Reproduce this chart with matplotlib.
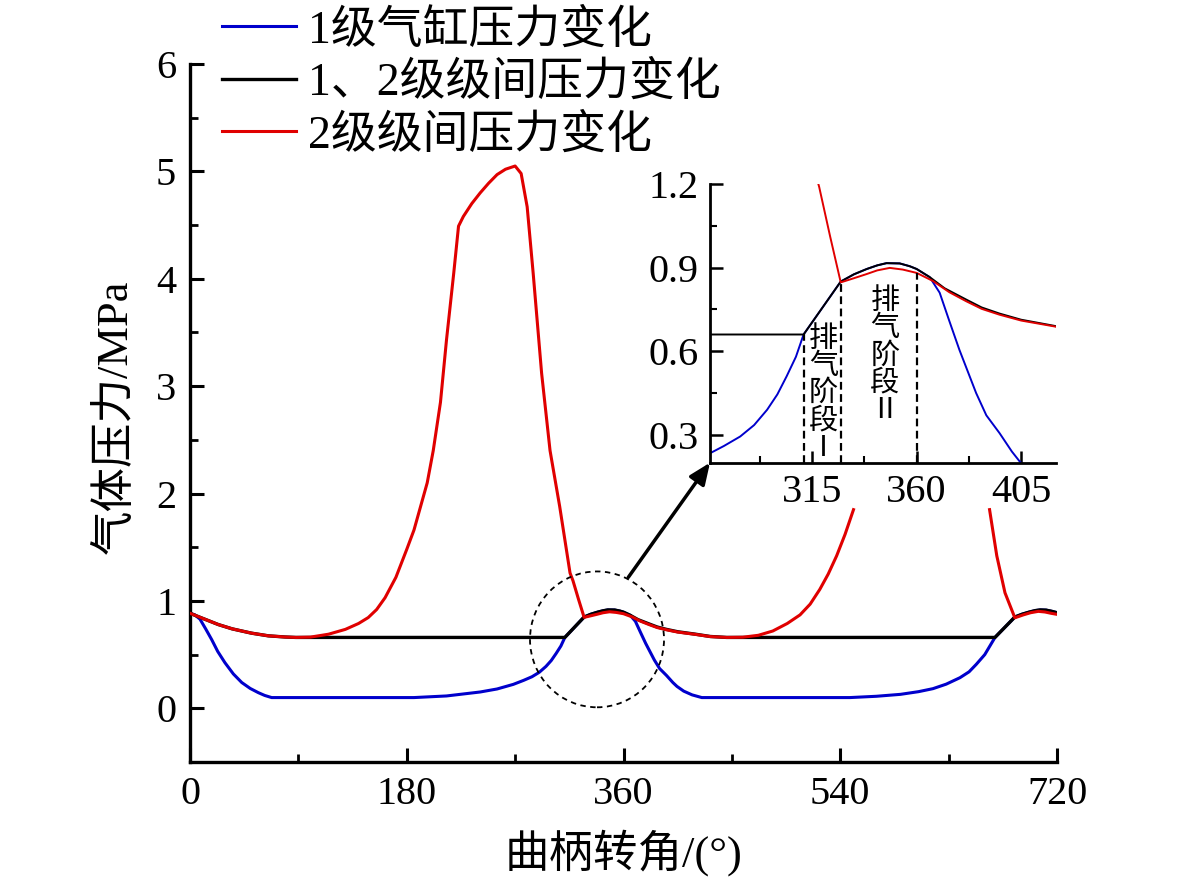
import numpy as np
import matplotlib
matplotlib.use("Agg")
import matplotlib.pyplot as plt
from matplotlib.patches import Ellipse
from matplotlib.ticker import MultipleLocator

plt.rcParams['font.family'] = ['Liberation Serif', 'Noto Sans CJK SC']
plt.rcParams['axes.unicode_minus'] = False

# ---------------- data ----------------
labels = ["1级气缸压力变化", "1、2级级间压力变化", "2级级间压力变化"]
colors = ["#0000CC", "#000000", "#E00000"]

# 1级气缸压力变化 (blue)
blue_x = [0, 4, 8.3, 13, 18, 23, 29, 36, 43, 50, 56.7, 62, 67.8, 186, 213, 241, 255,
          268.5, 277, 284, 290, 295.6, 300, 304, 308, 311.3, 327.3, 333, 338.5, 343,
          347, 352.7, 357, 360, 365.6, 369.9, 374, 378.4, 385.6, 390, 395.7, 401,
          404.4, 410, 417, 425, 548, 570, 590, 605, 617, 628, 639.4, 647, 653, 660,
          668.5, 685, 691, 697, 702, 706, 711, 716, 720]
blue_y = [0.885, 0.87, 0.83, 0.74, 0.64, 0.53, 0.425, 0.32, 0.24, 0.185, 0.146, 0.12,
          0.1, 0.1, 0.115, 0.152, 0.18, 0.223, 0.26, 0.294, 0.335, 0.39, 0.445, 0.51,
          0.58, 0.66, 0.85, 0.876, 0.895, 0.908, 0.916, 0.915, 0.905, 0.895, 0.866,
          0.81, 0.71, 0.605, 0.45, 0.37, 0.306, 0.24, 0.204, 0.16, 0.125, 0.1, 0.1,
          0.112, 0.13, 0.155, 0.183, 0.225, 0.285, 0.34, 0.41, 0.5, 0.66, 0.85, 0.876,
          0.896, 0.91, 0.916, 0.914, 0.902, 0.89]

# 1、2级级间压力变化 (black)
black_x = [0, 10, 23.5, 35, 51, 65, 79, 88, 311.3, 327.3, 333, 338.5, 343, 347, 352.7,
           357, 360, 365.6, 372, 381.4, 388, 395.7, 405, 419.3, 432, 445.7, 668.5, 685,
           691, 697, 702, 706, 711, 716, 720]
black_y = [0.885, 0.84, 0.78, 0.74, 0.70, 0.675, 0.664, 0.66, 0.66, 0.85, 0.876, 0.895,
           0.908, 0.916, 0.915, 0.905, 0.895, 0.866, 0.826, 0.785, 0.757, 0.735, 0.713,
           0.691, 0.669, 0.66, 0.66, 0.85, 0.876, 0.896, 0.91, 0.916, 0.914, 0.902, 0.89]

# 2级级间压力变化 (red); NaN = hidden behind the inset
red_x = [0, 10, 23.5, 35, 51, 65, 79, 88, 100, 115, 129, 140, 148, 155, 162, 171, 180,
         186, 191, 197, 202, 208, 213, 219, 223, 227, 234, 241, 248, 255, 262, 270, 275,
         280, 285, 292, 299, 307, 315.6, 318, 322.7, 327.3, 333, 338.5, 343, 348.4, 354,
         360, 367, 374, 381.4, 388, 395.7, 405, 419.3, 432, 445.7, 459, 472, 484, 496,
         506.6, 515, 523, 530, 537, 544, 551, 600, 664, 670, 676.8, 685, 692, 698,
         704.5, 710, 715, 720]
red_y = [0.885, 0.84, 0.78, 0.74, 0.70, 0.675, 0.664, 0.66, 0.663, 0.69, 0.735, 0.79,
         0.845, 0.92, 1.03, 1.22, 1.48, 1.66, 1.86, 2.10, 2.40, 2.85, 3.43, 4.05, 4.49,
         4.58, 4.70, 4.80, 4.89, 4.97, 5.02, 5.05, 4.98, 4.67, 4.05, 3.12, 2.40, 1.88,
         1.26, 1.19, 1.013, 0.847, 0.862, 0.877, 0.89, 0.899, 0.893, 0.881, 0.852,
         0.812, 0.779, 0.752, 0.731, 0.71, 0.689, 0.668, 0.66, 0.662, 0.68, 0.72, 0.79,
         0.87, 0.97, 1.107, 1.25, 1.42, 1.62, 1.85, np.nan, 1.85, 1.42, 1.076, 0.843,
         0.87, 0.89, 0.903, 0.897, 0.885, 0.875]

x_ticks = [0, 180, 360, 540, 720]
y_ticks = [0, 1, 2, 3, 4, 5, 6]
inset_x_ticks = [315, 360, 405]
inset_y_ticks = [0.3, 0.6, 0.9, 1.2]
phase_bounds = [311.3, 327.3, 360]
phase_texts = ["排\n气\n阶\n段\nⅠ", "排\n气\n阶\n段\nⅡ"]

series = [(blue_x, blue_y), (black_x, black_y), (red_x, red_y)]

# ---------------- figure ----------------
W, H = 1181, 883
fig = plt.figure(figsize=(W / 100, H / 100), dpi=100)
ax = fig.add_axes([190 / W, 1 - 762 / H, 867 / W, 698 / H])

lws = [2.2, 2.4, 2.2]
handles = []
for (xs, ys), c, lw, lab, z in zip(series, colors, lws, labels, [2, 3, 4]):
    h, = ax.plot(xs, ys, color=c, lw=lw, label=lab, zorder=z, solid_joinstyle='round')
    handles.append(h)

ax.set_xlim(0, 720)
ax.set_ylim(-0.5, 6)
ax.set_xticks(x_ticks)
ax.set_yticks(y_ticks)
ax.xaxis.set_minor_locator(MultipleLocator(90))
ax.yaxis.set_minor_locator(MultipleLocator(0.5))
for s in ['top', 'right']:
    ax.spines[s].set_visible(False)
for s in ['left', 'bottom']:
    ax.spines[s].set_linewidth(2.4)
ax.tick_params(which='major', direction='in', length=10, width=2.2, labelsize=29, pad=10)
ax.tick_params(which='minor', direction='in', length=6, width=2.0)
ax.set_xlabel("曲柄转角/(°)", fontsize=32, labelpad=12)
ax.set_ylabel("气体压力/MPa", fontsize=32)
ax.yaxis.set_label_coords(-0.062, 0.494)

# dashed circle around the zoomed region
circ = Ellipse((338, 0.642), width=111.3, height=1.265, fill=False, ec='black',
               lw=1.3, ls=(0, (3, 2.5)), zorder=5)
ax.add_patch(circ)

# inset
axin = fig.add_axes([710 / W, 1 - 462.7 / H, 346 / W, 278.7 / H])
for (xs, ys), c, z in zip(series, colors, [2, 3, 4]):
    axin.plot(xs, ys, color=c, lw=1.4, zorder=z)
axin.set_xlim(271, 420)
axin.set_ylim(0.2, 1.2)
axin.set_xticks(inset_x_ticks)
axin.set_yticks(inset_y_ticks)
axin.xaxis.set_minor_locator(MultipleLocator(22.5))
axin.yaxis.set_minor_locator(MultipleLocator(0.15))
for s in ['top', 'right']:
    axin.spines[s].set_visible(False)
for s in ['left', 'bottom']:
    axin.spines[s].set_linewidth(2.0)
axin.tick_params(which='major', direction='in', length=9, width=1.8, labelsize=29, pad=8)
axin.tick_params(which='minor', direction='in', length=5, width=1.5)
axin.set_yticklabels(["0.3", "0.6", "0.9", "1.2"])

bx = np.array(black_x, float); by = np.array(black_y, float)
rx = np.array([v for v, w in zip(red_x, red_y) if not np.isnan(w)])
ry = np.array([w for w in red_y if not np.isnan(w)])
for b in phase_bounds:
    top = min(np.interp(b, bx, by), np.interp(b, rx, ry))
    axin.plot([b, b], [0.2, top], color='black', lw=1.6, ls=(0, (3.5, 2)), zorder=6)

axin.text(319.8, 0.45, phase_texts[0], fontsize=21, ha='center', va='center',
          linespacing=0.88, family=['Noto Sans CJK SC'], zorder=7)
axin.text(346.3, 0.585, phase_texts[1], fontsize=21, ha='center', va='center',
          linespacing=0.88, family=['Noto Sans CJK SC'], zorder=7)

# arrow from circle to the inset corner
ax.annotate('', xy=(0, 0), xycoords=axin.transAxes, xytext=(364, 1.22),
            textcoords='data',
            arrowprops=dict(arrowstyle='-|>,head_length=1.3,head_width=0.55',
                            lw=2.5, color='black', shrinkA=0, shrinkB=0),
            annotation_clip=False, zorder=8)

# legend
fig.legend(handles=handles, labels=labels, loc='upper left',
           bbox_to_anchor=(222 / W, 1 - 9 / H), frameon=False, fontsize=33,
           handlelength=1.62, handletextpad=0.26, labelspacing=0.2,
           borderpad=0, borderaxespad=0)

fig.savefig("out.png", dpi=100)
